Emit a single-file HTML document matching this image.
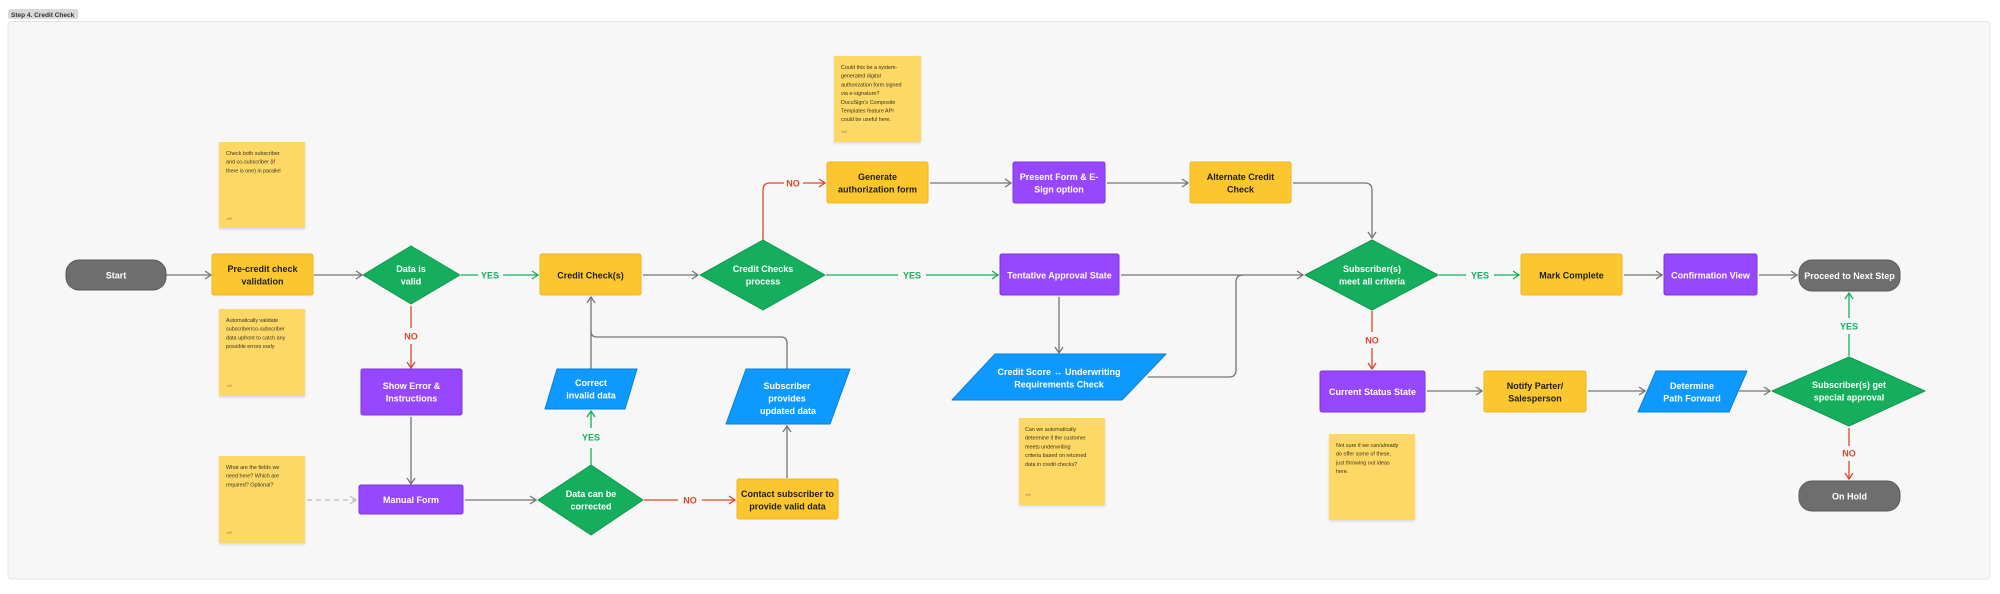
<!DOCTYPE html>
<html><head><meta charset="utf-8"><style>
html,body{margin:0;padding:0;background:#fff;}
svg{display:block;font-family:"Liberation Sans",sans-serif;}
.n{font-size:9px;font-weight:bold;text-anchor:middle;fill:#fff;}
.d{fill:#1e1e1e;}
.s{font-size:5.4px;fill:#3a3320;}
.g{stroke:#757575;stroke-width:1.3;fill:none;}
.gr{stroke:#14ae5c;stroke-width:1.3;fill:none;}
.r{stroke:#e0452b;stroke-width:1.3;fill:none;}
.lg{font-size:9px;font-weight:bold;fill:#14ae5c;text-anchor:middle;}
.lr{font-size:9px;font-weight:bold;fill:#e0452b;text-anchor:middle;}
</style></head><body>
<svg width="2000" height="594" viewBox="0 0 2000 594" xmlns="http://www.w3.org/2000/svg">
<defs>
<marker id="ag" markerWidth="8" markerHeight="10" refX="7" refY="5" orient="auto" markerUnits="userSpaceOnUse"><path d="M1,1 L7,5 L1,9" fill="none" stroke="#757575" stroke-width="1.3"/></marker>
<marker id="agr" markerWidth="8" markerHeight="10" refX="7" refY="5" orient="auto" markerUnits="userSpaceOnUse"><path d="M1,1 L7,5 L1,9" fill="none" stroke="#14ae5c" stroke-width="1.3"/></marker>
<marker id="ar" markerWidth="8" markerHeight="10" refX="7" refY="5" orient="auto" markerUnits="userSpaceOnUse"><path d="M1,1 L7,5 L1,9" fill="none" stroke="#e0452b" stroke-width="1.3"/></marker>
<marker id="al" markerWidth="8" markerHeight="10" refX="7" refY="5" orient="auto" markerUnits="userSpaceOnUse"><path d="M1,1 L7,5 L1,9" fill="none" stroke="#bdbdbd" stroke-width="1.3"/></marker>
<filter id="sh" x="-10%" y="-10%" width="120%" height="125%"><feDropShadow dx="0" dy="1.5" stdDeviation="1.2" flood-color="#000" flood-opacity="0.12"/></filter>
</defs>
<rect x="0" y="0" width="2000" height="594" fill="#fff"/>
<rect x="8" y="21.5" width="1982" height="557.5" rx="3" fill="#f7f7f7" stroke="#e6e6e6"/>
<rect x="8" y="9" width="70" height="10" rx="2" fill="#d9d9d9"/>
<text x="11" y="16.8" style="font-size:6.5px;fill:#333;font-weight:bold">Step 4. Credit Check</text>

<path class="g" d="M166,275 H211" marker-end="url(#ag)"/>
<path class="g" d="M314,275 H362" marker-end="url(#ag)"/>
<path class="gr" d="M461,275 H478"/><path class="gr" d="M503,275 H538" marker-end="url(#agr)"/>
<text class="lg" x="490" y="278.5">YES</text>
<path class="r" d="M411,306 V328"/><path class="r" d="M411,344 V368" marker-end="url(#ar)"/>
<text class="lr" x="411" y="339.5">NO</text>
<path class="g" d="M411,417 V484" marker-end="url(#ag)"/>
<path d="M307,500 H356" stroke="#bdbdbd" stroke-width="1.3" stroke-dasharray="5,4" fill="none" marker-end="url(#al)"/>
<path class="g" d="M465,500 H536" marker-end="url(#ag)"/>
<path class="r" d="M644,500 H678"/><path class="r" d="M702,500 H735" marker-end="url(#ar)"/>
<text class="lr" x="690" y="503.5">NO</text>
<path class="gr" d="M591,465 V448"/><path class="gr" d="M591,428 V411" marker-end="url(#agr)"/>
<text class="lg" x="591" y="440.5">YES</text>
<path class="g" d="M591,369 V297" marker-end="url(#ag)"/>
<path class="g" d="M787,369 V343 Q787,337 781,337 H597 Q591,337 591,331"/>
<path class="g" d="M787,478 V426" marker-end="url(#ag)"/>
<path class="g" d="M643,275 H698" marker-end="url(#ag)"/>
<path class="r" d="M763,240 V190 Q763,183 770,183 H784"/><path class="r" d="M803,183 H825" marker-end="url(#ar)"/>
<text class="lr" x="793" y="186.5">NO</text>
<path class="gr" d="M826,275 H898"/><path class="gr" d="M926,275 H998" marker-end="url(#agr)"/>
<text class="lg" x="912" y="278.5">YES</text>
<path class="g" d="M930,183 H1011" marker-end="url(#ag)"/>
<path class="g" d="M1107,183 H1188" marker-end="url(#ag)"/>
<path class="g" d="M1293,183 H1365 Q1372,183 1372,190 V238" marker-end="url(#ag)"/>
<path class="g" d="M1121,275 H1303" marker-end="url(#ag)"/>
<path class="g" d="M1059,297 V353" marker-end="url(#ag)"/>
<path class="g" d="M1148,377 H1229 Q1236,377 1236,370 V282 Q1236,275 1243,275"/>
<path class="gr" d="M1439,275 H1466"/><path class="gr" d="M1494,275 H1519" marker-end="url(#agr)"/>
<text class="lg" x="1480" y="278.5">YES</text>
<path class="g" d="M1624,275 H1662" marker-end="url(#ag)"/>
<path class="g" d="M1759,275 H1797" marker-end="url(#ag)"/>
<path class="r" d="M1372,311 V332"/><path class="r" d="M1372,348 V369" marker-end="url(#ar)"/>
<text class="lr" x="1372" y="343.5">NO</text>
<path class="g" d="M1427,391 H1482" marker-end="url(#ag)"/>
<path class="g" d="M1588,391 H1645" marker-end="url(#ag)"/>
<path class="g" d="M1739,391 H1770" marker-end="url(#ag)"/>
<path class="gr" d="M1849,356 V334"/><path class="gr" d="M1849,318 V293" marker-end="url(#agr)"/>
<text class="lg" x="1849" y="329.5">YES</text>
<path class="r" d="M1849,428 V446"/><path class="r" d="M1849,461 V479" marker-end="url(#ar)"/>
<text class="lr" x="1849" y="456.5">NO</text>

<g filter="url(#sh)" fill="#fdd865">
<rect x="219" y="142" width="86" height="86"/>
<rect x="219" y="309" width="86" height="87"/>
<rect x="219" y="456" width="86" height="87"/>
<rect x="834" y="56" width="87" height="86"/>
<rect x="1019" y="418" width="86" height="87"/>
<rect x="1329" y="434" width="86" height="86"/>
</g>
<g class="s">
<text x="226" y="155">Check both subscriber</text><text x="226" y="163.7">and co-subscriber (if</text><text x="226" y="172.4">there is one) in parallel</text><text x="226" y="220" style="font-size:3.5px;fill:#9a8a50">Jeff</text>
<text x="226" y="322">Automatically validate</text><text x="226" y="330.7">subscriber/co-subscriber</text><text x="226" y="339.4">data upfront to catch any</text><text x="226" y="348.1">possible errors early</text><text x="226" y="387" style="font-size:3.5px;fill:#9a8a50">Jeff</text>
<text x="226" y="469">What are the fields we</text><text x="226" y="477.7">need here? Which are</text><text x="226" y="486.4">required? Optional?</text><text x="226" y="534" style="font-size:3.5px;fill:#9a8a50">Jeff</text>
<text x="841" y="69">Could this be a system-</text><text x="841" y="77.7">generated digital</text><text x="841" y="86.4">authorization form signed</text><text x="841" y="95.1">via e-signature?</text><text x="841" y="103.8">DocuSign's Composite</text><text x="841" y="112.5">Templates feature API</text><text x="841" y="121.2">could be useful here.</text><text x="841" y="133" style="font-size:3.5px;fill:#9a8a50">Jeff</text>
<text x="1025" y="431">Can we automatically</text><text x="1025" y="439.7">determine if the customer</text><text x="1025" y="448.4">meets underwriting</text><text x="1025" y="457.1">criteria based on returned</text><text x="1025" y="465.8">data in credit checks?</text><text x="1025" y="496" style="font-size:3.5px;fill:#9a8a50">Jeff</text>
<text x="1336" y="447">Not sure if we can/already</text><text x="1336" y="455.7">do offer some of these,</text><text x="1336" y="464.4">just throwing out ideas</text><text x="1336" y="473.1">here.</text>
</g>

<g fill="#6e6e6e" stroke="#5a5a5a" stroke-width="1">
<rect x="66" y="260" width="100" height="30" rx="13"/>
<rect x="1799" y="260" width="101" height="31" rx="13"/>
<rect x="1799" y="481" width="101" height="30" rx="13"/>
</g>
<text class="n" x="116" y="278.5">Start</text>
<text class="n" x="1849.5" y="279">Proceed to Next Step</text>
<text class="n" x="1849.5" y="499.5">On Hold</text>

<g fill="#fcc72e" stroke="#efb526" stroke-width="1">
<rect x="212" y="254" width="101" height="41" rx="2"/>
<rect x="540" y="254" width="101" height="41" rx="2"/>
<rect x="827" y="162" width="101" height="41" rx="2"/>
<rect x="1190" y="162" width="101" height="41" rx="2"/>
<rect x="737" y="479" width="101" height="40" rx="2"/>
<rect x="1521" y="254" width="101" height="41" rx="2"/>
<rect x="1484" y="371" width="102" height="41" rx="2"/>
</g>
<g class="n d">
<text x="262.5" y="272">Pre-credit check</text><text x="262.5" y="284.5">validation</text>
<text x="590.5" y="278.5">Credit Check(s)</text>
<text x="877.5" y="180">Generate</text><text x="877.5" y="192.5">authorization form</text>
<text x="1240.5" y="180">Alternate Credit</text><text x="1240.5" y="192.5">Check</text>
<text x="787.5" y="497">Contact subscriber to</text><text x="787.5" y="509.5">provide valid data</text>
<text x="1571.5" y="278.5">Mark Complete</text>
<text x="1535" y="389">Notify Parter/</text><text x="1535" y="401.5">Salesperson</text>
</g>

<g fill="#9747ff" stroke="#7c36d9" stroke-width="1">
<rect x="361" y="369" width="101" height="46" rx="2"/>
<rect x="359" y="485" width="104" height="29" rx="2"/>
<rect x="1013" y="162" width="92" height="41" rx="2"/>
<rect x="1000" y="254" width="119" height="41" rx="2"/>
<rect x="1664" y="254" width="93" height="41" rx="2"/>
<rect x="1320" y="371" width="105" height="41" rx="2"/>
</g>
<g class="n">
<text x="411.5" y="389">Show Error &amp;</text><text x="411.5" y="401.5">Instructions</text>
<text x="411" y="503">Manual Form</text>
<text x="1059" y="180">Present Form &amp; E-</text><text x="1059" y="192.5">Sign option</text>
<text x="1059.5" y="278.5">Tentative Approval State</text>
<text x="1710.5" y="278.5">Confirmation View</text>
<text x="1372.5" y="395">Current Status State</text>
</g>

<g fill="#0d99ff" stroke="#0a7fd6" stroke-width="1" stroke-linejoin="round">
<polygon points="557,369 637,369 625,409 545,409"/>
<polygon points="746,369 850,369 830,424 726,424"/>
<polygon points="995,354 1166,354 1122,400 952,400"/>
<polygon points="1656,371 1747,371 1729,412 1638,412"/>
</g>
<g class="n">
<text x="591" y="386">Correct</text><text x="591" y="398.5">invalid data</text>
<text x="787" y="389">Subscriber</text><text x="787" y="401.5">provides</text><text x="788" y="414">updated data</text>
<text x="1059" y="375">Credit Score ↔ Underwriting</text><text x="1059" y="387.5">Requirements Check</text>
<text x="1692" y="389">Determine</text><text x="1692" y="401.5">Path Forward</text>
</g>

<g fill="#14ae5c" stroke="#0f9a50" stroke-width="1" stroke-linejoin="round">
<polygon points="411,246 460,275 411,304 363,275"/>
<polygon points="591,465 643,500 591,535 538,500"/>
<polygon points="763,240 825,275 763,310 700,275"/>
<polygon points="1372,240 1438,275 1372,310 1305,275"/>
<polygon points="1849,357 1925,391 1849,426 1772,391"/>
</g>
<g class="n">
<text x="411" y="272">Data is</text><text x="411" y="284.5">valid</text>
<text x="591" y="497">Data can be</text><text x="591" y="509.5">corrected</text>
<text x="763" y="272">Credit Checks</text><text x="763" y="284.5">process</text>
<text x="1372" y="272">Subscriber(s)</text><text x="1372" y="284.5">meet all criteria</text>
<text x="1849" y="388">Subscriber(s) get</text><text x="1849" y="400.5">special approval</text>
</g>
</svg>
</body></html>
